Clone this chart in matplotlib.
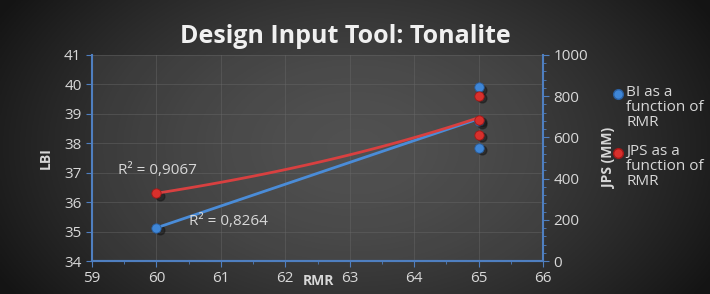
import numpy as np
import matplotlib.pyplot as plt

# data
rmr_bi = [60, 65, 65, 65]
bi = [35.13, 39.9, 38.75, 37.85]
rmr_jps = [60, 65, 65, 65]
jps = [329, 800, 686, 614]
r2_bi = "R² = 0,8264"
r2_jps = "R² = 0,9067"

plt.rcParams['font.family'] = ['Open Sans', 'DejaVu Sans']

fig = plt.figure(figsize=(7.1, 2.94), dpi=100)

# dark radial background
bg = fig.add_axes([0, 0, 1, 1], zorder=-10)
yy, xx = np.mgrid[-1:1:200j, -1:1:400j]
rr = np.sqrt((xx / 1.0) ** 2 + (yy / 1.6) ** 2)
lev = np.clip(0.29 - 0.17 * rr ** 1.5, 0.08, 1)
bg.imshow(np.dstack([lev, lev, lev]), aspect='auto', extent=[0, 1, 0, 1])
bg.axis('off')

ax = fig.add_axes([0.1296, 0.112, 0.6354, 0.701])
ax.set_facecolor((0.45, 0.45, 0.45, 0.18))
ax2 = ax.twinx()

blue = '#3f86d6'
red = '#d8302c'
spine = '#4f7fc0'
tc = '#d8d8d8'

# trend lines
xs = np.linspace(60, 65, 50)
p = np.polyfit(rmr_bi, bi, 1)
ax.plot(xs, np.polyval(p, xs), color='#4a8cd8', lw=2, zorder=3)
b, lna = np.polyfit(rmr_jps, np.log(jps), 1)
ax2.plot(xs, np.exp(lna + b * xs), color='#d84040', lw=2, zorder=3)

# spheres (with shadow)
ax.scatter(np.array(rmr_bi) + 0.05, np.array(bi) - 0.08, s=40, color='#151515', alpha=0.5, zorder=2)
ax.scatter(rmr_bi, bi, s=45, color=blue, edgecolors='#2a5fa0', lw=0.6, zorder=4)
ax2.scatter(np.array(rmr_jps) + 0.05, np.array(jps) - 11, s=40, color='#151515', alpha=0.5, zorder=2)
ax2.scatter(rmr_jps, jps, s=45, color=red, edgecolors='#a01818', lw=0.6, zorder=4)

ax.set_xlim(59, 66)
ax.set_ylim(34, 41)
ax2.set_ylim(0, 1000)
ax.set_xticks(range(59, 67))
ax.set_xticks(np.arange(59.5, 66, 1), minor=True)
ax.set_yticks(range(34, 42))
ax2.set_yticks(range(0, 1001, 200))
ax2.set_yticks(range(0, 1001, 40), minor=True)
ax.grid(True, color='#6a6a6a', lw=0.6, alpha=0.5)
ax.set_axisbelow(True)

for a in (ax, ax2):
    for s in a.spines.values():
        s.set_color(spine)
        s.set_linewidth(1.5)
    a.spines['top'].set_visible(False)
    a.tick_params(colors=spine, labelcolor=tc, labelsize=11, length=4)
    a.tick_params(which='minor', colors=spine, length=2)
ax.spines['right'].set_visible(False)
ax2.spines['left'].set_visible(False)

ax.text(59.4, 37.08, r2_jps, color=tc, fontsize=11, ha='left', va='center')
ax.text(60.5, 35.33, r2_bi, color=tc, fontsize=11, ha='left', va='center')

ax.set_ylabel('LBI', color=tc, fontsize=10, fontweight='bold', labelpad=8)
ax2.set_ylabel('JPS (MM)', color=tc, fontsize=10, fontweight='bold', labelpad=10)
fig.text(0.448, 0.03, 'RMR', color=tc, fontsize=10, fontweight='bold', ha='center')
fig.text(0.487, 0.855, 'Design Input Tool: Tonalite', color='#f0f0f0', fontsize=18,
         fontweight='bold', ha='center')

# legend
lx = 0.87
for yp, c, ec, lab in [(0.68, blue, '#2a5fa0', 'BI as a\nfunction of\nRMR'),
                       (0.48, red, '#a01818', 'JPS as a\nfunction of\nRMR')]:
    fig.add_artist(plt.Line2D([lx], [yp], marker='o', color=c, markeredgecolor=ec,
                              markersize=7, transform=fig.transFigure))
    fig.text(lx + 0.012, yp + 0.03, lab, color=tc, fontsize=11, va='top', ha='left',
             linespacing=1.0)

fig.savefig('out.png', dpi=100)
